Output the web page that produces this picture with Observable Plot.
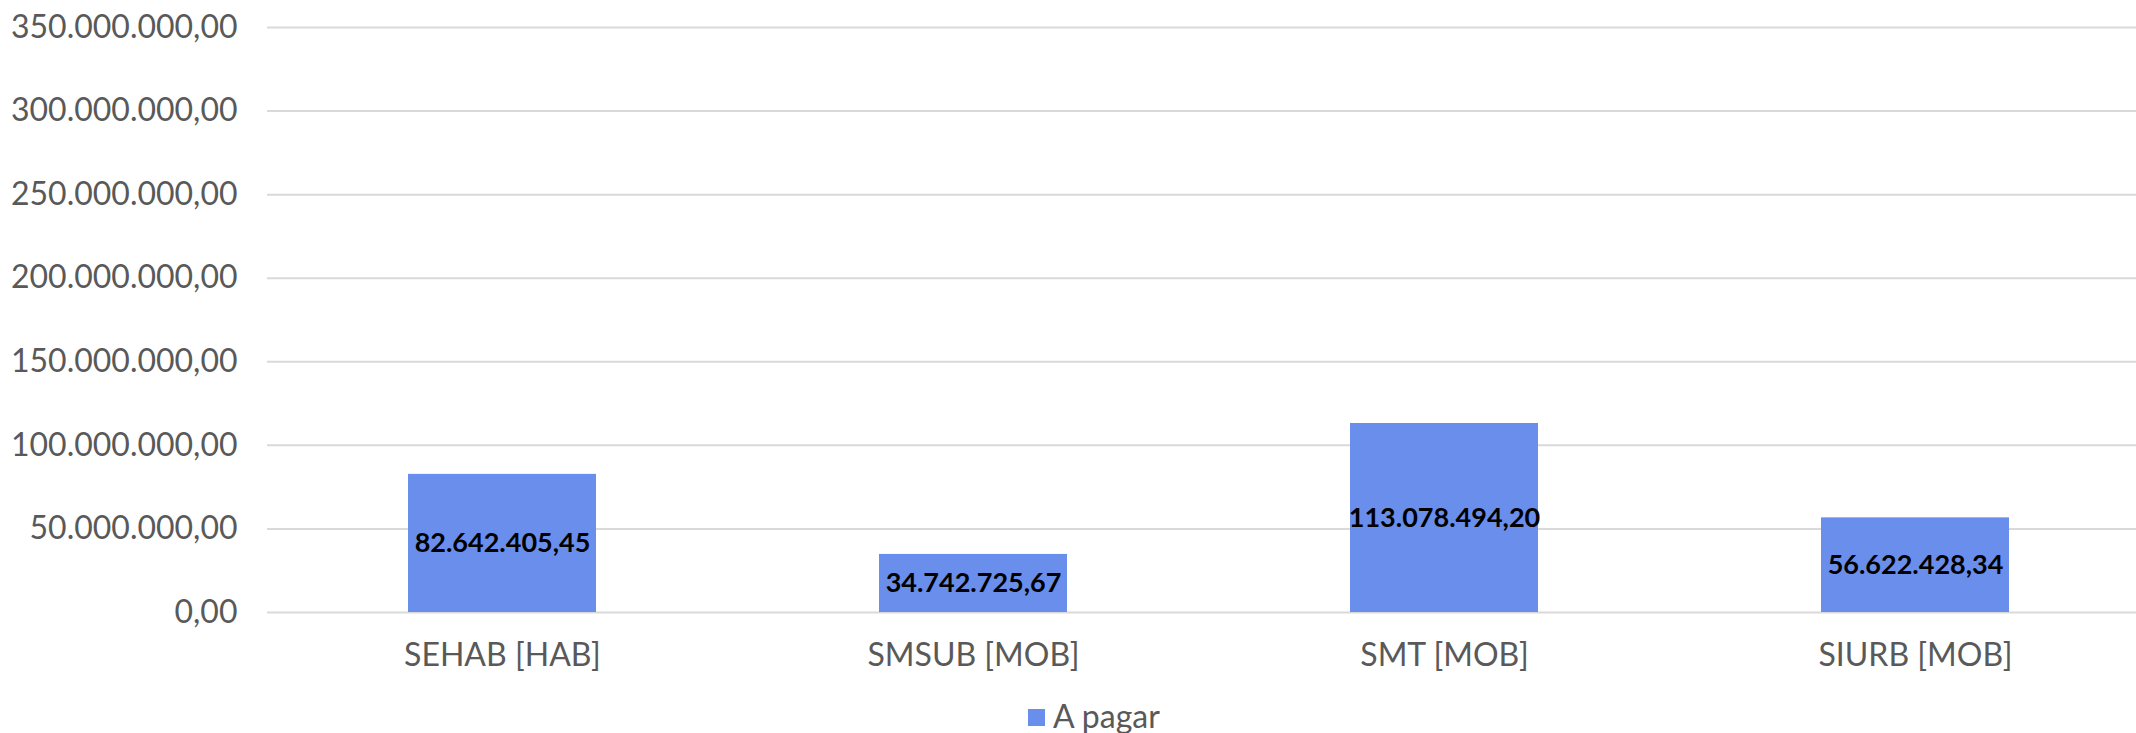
<!DOCTYPE html>
<html>
<head>
<meta charset="utf-8">
<script src="https://cdn.jsdelivr.net/npm/d3@7"></script>
<script src="https://cdn.jsdelivr.net/npm/@observablehq/plot@0.6"></script>
<style>
  html, body { margin: 0; padding: 0; background: #fff; }
  body { width: 2136px; height: 733px; overflow: hidden; font-family: Lato, "Open Sans", sans-serif; }
  #legend { height: 43px; display: flex; justify-content: center; align-items: center; font-size: 32px; color: #595959; padding-top: 8px; padding-left: 52px; box-sizing: border-box; }
  #legend .sw { width: 17px; height: 17px; background: #6a8eeb; margin-right: 8px; margin-top: 3px; }
</style>
</head>
<body>
<div id="chart"></div>
<div id="legend"><span class="sw"></span><span>A pagar</span></div>
<script>
const categories = ["SEHAB [HAB]", "SMSUB [MOB]", "SMT [MOB]", "SIURB [MOB]"];
const values = [82642405.45, 34742725.67, 113078494.20, 56622428.34];
const yTicks = [0, 50000000, 100000000, 150000000, 200000000, 250000000, 300000000, 350000000];
const seriesName = "A pagar";

const locale = d3.formatLocale({decimal: ",", thousands: ".", grouping: [3], currency: ["R$", ""]});
const fmt = locale.format(",.2f");

const data = categories.map((c, i) => ({category: c, value: values[i]}));

const chart = Plot.plot({
  width: 2136,
  height: 690,
  marginLeft: 267,
  marginRight: -15,
  marginTop: 27,
  marginBottom: 78,
  style: {fontFamily: "Lato, 'Open Sans', sans-serif", fontSize: "32px", color: "#595959", background: "#fff", overflow: "hidden"},
  x: {domain: categories, paddingInner: 0.6, paddingOuter: 0.3, label: null},
  y: {domain: [0, 350000000], label: null},
  marks: [
    Plot.gridY(yTicks, {stroke: "#d9d9d9", strokeOpacity: 1, strokeWidth: 2}),
    Plot.barY(data, {x: "category", y: "value", fill: "#6a8eeb"}),
    Plot.text(data, {x: "category", y: d => d.value / 2, text: d => fmt(d.value), fill: "#000", fontWeight: "bold", fontSize: 27}),
    Plot.axisY({ticks: yTicks, tickFormat: fmt, tickSize: 0, tickPadding: 30, label: null, fill: "#595959"}),
    Plot.axisX({tickSize: 0, tickPadding: 31, label: null, fill: "#595959"})
  ]
});
document.getElementById("chart").appendChild(chart);
</script>
</body>
</html>
